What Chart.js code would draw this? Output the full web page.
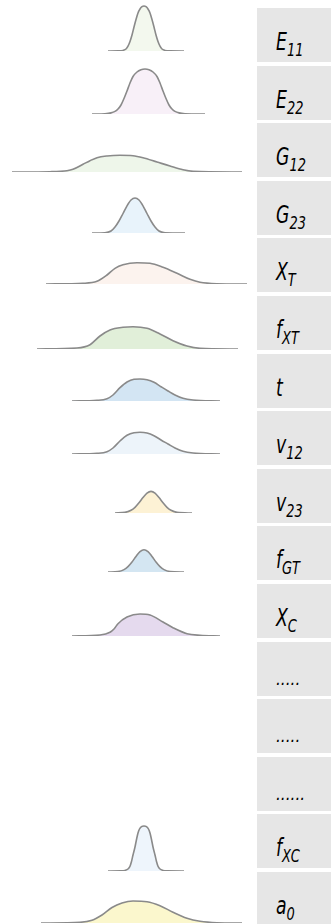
<!DOCTYPE html>
<html>
<head>
<meta charset="utf-8">
<script src="https://cdn.jsdelivr.net/npm/chart.js@4.4.0/dist/chart.umd.min.js"></script>
<style>
html, body { margin: 0; padding: 0; background: #fff; }
#pagina { position: relative; width: 332px; height: 924px; overflow: hidden; }
.curva { position: absolute; left: 0; width: 257px; height: 62px; }
.caja { position: absolute; left: 257px; width: 74px; height: 54px; background: #e6e6e6; }
.etiqueta {
    position: absolute; left: 19px; top: 22px;
    font-family: "Liberation Sans Narrow", "DejaVu Sans", sans-serif; font-stretch: condensed; font-style: italic;
    font-size: 24px; line-height: 24px; color: #000; white-space: nowrap;
    transform: scaleX(0.8); transform-origin: left center;
}
.etiqueta sub { font-size: 18px; vertical-align: -6px; line-height: 0; }
.etiqueta.puntos { font-size: 17px; top: 25px; transform: none; }
</style>
</head>
<body>
<div id="pagina"></div>
<script>
// Nombre de cada variable y su subindice
var nombres = ["E", "E", "G", "G", "X", "f", "t", "v", "v", "f", "X", ".....", ".....", "......", "f", "a"];
var subindices = ["11", "22", "12", "23", "T", "XT", "", "12", "23", "GT", "C", "", "", "", "XC", "0"];

// Densidades: valor (x) y altura (y) de cada curva
var e11X = [10.8, 11.8, 12.3, 12.6, 12.8, 13.0, 13.2, 13.4, 13.6, 13.8, 14.0, 14.2, 14.4, 14.6, 14.8, 15.0, 15.2, 15.4, 15.6, 15.8, 16.0, 16.2, 16.5, 17.0, 18.4];
var e11Y = [0, 0.01, 0.06, 0.2, 0.48, 0.95, 1.6, 2.4, 3.15, 3.8, 4.2, 4.43, 4.5, 4.43, 4.2, 3.8, 3.15, 2.4, 1.6, 0.95, 0.48, 0.2, 0.06, 0.01, 0];

var e22X = [9.2, 10.5, 11.1, 11.5, 11.8, 12.1, 12.4, 12.7, 13.0, 13.3, 13.7, 14.1, 14.5, 14.9, 15.3, 15.7, 16.0, 16.3, 16.6, 16.9, 17.2, 17.5, 17.9, 18.5, 20.5];
var e22Y = [0, 0.03, 0.11, 0.26, 0.5, 0.9, 1.55, 2.3, 3.1, 3.75, 4.2, 4.43, 4.5, 4.43, 4.2, 3.75, 3.1, 2.3, 1.55, 0.9, 0.5, 0.26, 0.11, 0.03, 0];

var g12X = [1.2, 5.0, 6.7, 7.3, 8.3, 9.0, 9.7, 10.7, 12.0, 13.3, 14.3, 15.7, 17.0, 18.3, 19.3, 24.2];
var g12Y = [0, 0.03, 0.13, 0.27, 0.77, 1.13, 1.43, 1.6, 1.67, 1.63, 1.43, 1.0, 0.6, 0.23, 0.07, 0];

var g23X = [9.2, 10.5, 11.1, 11.5, 11.9, 12.3, 12.7, 13.1, 13.5, 13.9, 14.3, 14.7, 15.1, 15.5, 15.9, 16.5, 18.5];
var g23Y = [0, 0.03, 0.2, 0.6, 1.2, 1.95, 2.72, 3.3, 3.5, 3.3, 2.72, 1.95, 1.2, 0.6, 0.2, 0.03, 0];

var xtX = [4.6, 8.3, 9.7, 10.7, 11.5, 12.3, 13.7, 15.0, 16.3, 17.7, 19.0, 20.0, 21.7, 24.7];
var xtY = [0, 0.07, 0.27, 0.9, 1.57, 1.93, 2.13, 2.07, 1.67, 1.07, 0.47, 0.17, 0.03, 0];

var fxtX = [3.7, 7.7, 9.0, 10.0, 11.0, 12.3, 13.3, 14.7, 16.0, 17.3, 18.7, 20.0, 23.8];
var fxtY = [0, 0.1, 0.43, 1.3, 1.9, 2.17, 2.23, 2.07, 1.5, 0.83, 0.3, 0.07, 0];

var tX = [7.2, 9.7, 10.7, 11.3, 12.0, 12.7, 13.4, 14.0, 14.7, 15.4, 16.1, 16.8, 17.5, 18.3, 19.3, 22.0];
var tY = [0, 0.07, 0.23, 0.6, 1.33, 1.9, 2.17, 2.2, 2.13, 1.87, 1.43, 1.0, 0.6, 0.27, 0.1, 0];

var v12X = [7.2, 9.7, 10.7, 11.3, 12.0, 12.7, 13.4, 14.0, 14.7, 15.4, 16.1, 16.8, 17.5, 18.3, 19.3, 22.0];
var v12Y = [0, 0.07, 0.23, 0.6, 1.3, 1.87, 2.13, 2.17, 2.1, 1.83, 1.4, 1.0, 0.6, 0.27, 0.1, 0];

var v23X = [11.5, 12.5, 13.1, 13.5, 13.9, 14.3, 14.7, 15.1, 15.5, 15.9, 16.3, 16.7, 17.1, 17.7, 19.2];
var v23Y = [0, 0.06, 0.27, 0.57, 1.02, 1.55, 1.99, 2.16, 1.99, 1.55, 1.02, 0.57, 0.27, 0.06, 0];

var fgtX = [10.8, 11.8, 12.4, 12.8, 13.2, 13.6, 14.0, 14.4, 14.8, 15.2, 15.6, 16.0, 16.4, 17.0, 18.4];
var fgtY = [0, 0.05, 0.24, 0.54, 1.0, 1.56, 2.04, 2.23, 2.04, 1.56, 1.0, 0.54, 0.24, 0.05, 0];

var xcX = [7.2, 10.0, 11.0, 11.4, 11.8, 12.7, 14.0, 15.0, 16.3, 17.3, 18.7, 20.0, 22.0];
var xcY = [0, 0.1, 0.37, 0.7, 1.23, 1.9, 2.2, 2.1, 1.4, 0.83, 0.23, 0.07, 0];

var fxcX = [10.8, 12.1, 12.5, 12.8, 13.0, 13.15, 13.3, 13.5, 13.65, 13.8, 13.95, 14.15, 14.4, 14.65, 14.85, 15.0, 15.15, 15.3, 15.5, 15.65, 15.8, 16.0, 16.3, 16.7, 18.4];
var fxcY = [0, 0.01, 0.06, 0.2, 0.48, 0.95, 1.6, 2.4, 3.15, 3.8, 4.2, 4.43, 4.5, 4.43, 4.2, 3.8, 3.15, 2.4, 1.6, 0.95, 0.48, 0.2, 0.06, 0.01, 0];

var a0X = [4.1, 8.0, 9.2, 10.2, 11.2, 12.2, 13.3, 14.7, 16.0, 17.3, 18.7, 20.0, 21.7, 24.2];
var a0Y = [0, 0.07, 0.27, 0.8, 1.55, 2.0, 2.2, 2.13, 1.73, 1.07, 0.47, 0.17, 0.03, 0];

// Una curva por fila (las filas "....." no tienen curva)
var curvas = [
    [e11X, e11Y], [e22X, e22Y], [g12X, g12Y], [g23X, g23Y], [xtX, xtY], [fxtX, fxtY],
    [tX, tY], [v12X, v12Y], [v23X, v23Y], [fgtX, fgtY], [xcX, xcY],
    null, null, null, [fxcX, fxcY], [a0X, a0Y]
];

// Colores de relleno
var rellenos = ["#f3f8ee", "#f8f0f8", "#eef6ea", "#e8f3fb", "#fcf3ee", "#e1efd9", "#d3e5f3", "#edf4fa",
    "#fdf2d5", "#d4e6f2", "#e5daee", null, null, null, "#eef5fc", "#fbf7cd"];

// Altura de la linea base dentro de cada fila (px desde arriba de la caja)
var bases = [43, 48, 49, 52.5, 45.5, 52.5, 47, 43, 44.5, 45.5, 51.5, 0, 0, 0, 56.5, 50.5];

var pagina = document.getElementById("pagina");
var paso = 57.6;

for (var i = 0; i < nombres.length; i++) {
    var arriba = 8 + i * paso;

    // Caja gris con la etiqueta
    var caja = document.createElement("div");
    caja.className = "caja";
    caja.style.top = arriba + "px";
    var etiqueta = document.createElement("div");
    etiqueta.className = "etiqueta" + (nombres[i].charAt(0) === "." ? " puntos" : "");
    etiqueta.textContent = nombres[i];
    if (subindices[i]) {
        var sub = document.createElement("sub");
        sub.textContent = subindices[i];
        etiqueta.appendChild(sub);
    }
    caja.appendChild(etiqueta);
    pagina.appendChild(caja);

    if (!curvas[i]) continue;

    var cont = document.createElement("div");
    cont.className = "curva";
    cont.style.top = (arriba + bases[i] - 60) + "px";
    var lienzo = document.createElement("canvas");
    cont.appendChild(lienzo);
    pagina.appendChild(cont);

    var xs = curvas[i][0], ys = curvas[i][1];
    new Chart(lienzo, {
        type: "line",
        data: {
            datasets: [{
                data: xs.map(function (x, k) { return { x: x, y: ys[k] }; }),
                borderColor: "#8a8a8a",
                borderWidth: 1.6,
                backgroundColor: rellenos[i],
                fill: "origin",
                pointRadius: 0,
                cubicInterpolationMode: "monotone"
            }]
        },
        options: {
            responsive: true,
            maintainAspectRatio: false,
            animation: false,
            layout: { padding: { top: 0, bottom: 2, left: 0, right: 0 } },
            scales: {
                x: { type: "linear", min: 0, max: 25.7, display: false },
                y: { min: 0, max: 6, display: false }
            },
            plugins: { legend: { display: false }, tooltip: { enabled: false } }
        }
    });
}
</script>
</body>
</html>
